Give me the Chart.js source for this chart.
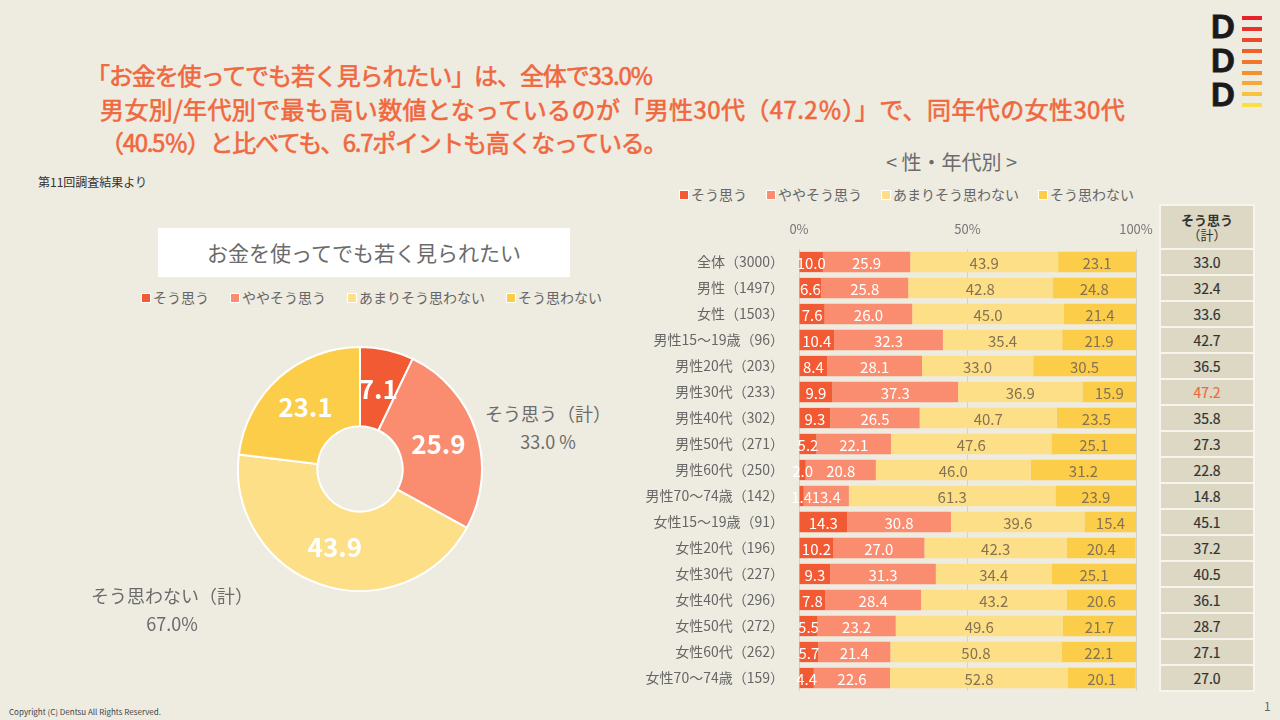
<!DOCTYPE html>
<html lang="ja">
<head>
<meta charset="utf-8">
<script src="https://cdn.jsdelivr.net/npm/chart.js@4.4.1/dist/chart.umd.min.js"></script>
<style>
  body { margin: 0; background: #eeebe1; font-family: "Noto Sans CJK JP", "Noto Sans", sans-serif; }
  #page { position: relative; width: 1280px; height: 720px; overflow: hidden; background: #eeebe1; }
  .abs { position: absolute; white-space: nowrap; }
  .headline { color: #f0683e; font-size: 24px; line-height: 34px; font-weight: 400; -webkit-text-stroke: 0.6px #f0683e; }
  .legend { font-size: 14px; color: #666; line-height: 18px; }
  .legend span.sq { display: inline-block; width: 8px; height: 8px; margin-right: 3px; vertical-align: 1px; }
  .note { font-size: 18px; color: #6b6b6b; text-align: center; line-height: 28px; }
  #table { position: absolute; left: 1159px; top: 204px; width: 96px; border-collapse: collapse; }
  #table td { background: #dcd8c4; border: 2px solid #f6f4ec; text-align: center; color: #333; font-size: 14px; height: 24px; padding: 0; -webkit-text-stroke: 0.2px #333; }
  #table td.head { height: 42px; font-size: 13px; font-weight: bold; line-height: 15px; -webkit-text-stroke: 0; }
  .stripe { position: absolute; left: 1242px; width: 20px; height: 4px; }
  .dd { position: absolute; left: 1211px; font: bold 33px "Liberation Sans", sans-serif; color: #1a1a1a; line-height: 33px; -webkit-text-stroke: 0.8px #1a1a1a; }
</style>
</head>
<body>
<div id="page">
  <div class="abs headline" style="left:86px; top:58px; letter-spacing:-1.1px;">「お金を使ってでも若く見られたい」は、全体で33.0%</div>
  <div class="abs headline" style="left:100px; top:92px; letter-spacing:0.4px;">男女別/年代別で最も高い数値となっているのが「男性30代（47.2％）」で、同年代の女性30代</div>
  <div class="abs headline" style="left:100px; top:125px; letter-spacing:-1.3px;">（40.5％）と比べても、6.7ポイントも高くなっている。</div>
  <div class="abs" style="left:38px; top:173px; font-size:12px; color:#333;">第11回調査結果より</div>

  <div class="abs" style="left:158px; top:228px; width:412px; height:49px; background:#fff; color:#6b6b6b; font-size:21px; line-height:49px; text-align:center;">お金を使ってでも若く見られたい</div>
  <div id="pieLegend" class="abs legend" style="left:142px; top:288px;"></div>

  <div class="abs" style="left:236px; top:345px; width:248px; height:248px;"><canvas id="pie"></canvas></div>
  <div class="abs note" style="left:485px; top:399px; width:126px;">そう思う（計）<br>33.0 %</div>
  <div class="abs note" style="left:88px; top:581px; width:168px;">そう思わない（計）<br>67.0%</div>

  <div class="abs" style="left:886px; top:147px; font-size:20px; color:#6b6b6b;">&lt; 性・年代別 &gt;</div>
  <div id="barLegend" class="abs legend" style="left:680px; top:185px;"></div>

  <div class="abs" style="left:630px; top:200px; width:530px; height:500px;"><canvas id="bars"></canvas></div>
  <table id="table"><tbody id="tbody"></tbody></table>

  <div class="abs" style="left:9px; top:706px; font-size:8px; color:#444;">Copyright (C) Dentsu All Rights Reserved.</div>
  <div class="abs" style="left:1264px; top:697px; font-size:12px; color:#666;">1</div>

  <div class="dd" style="top:10px;">D</div>
  <div class="dd" style="top:44px;">D</div>
  <div class="dd" style="top:78px;">D</div>
  <div id="logo"></div>
</div>

<script>
const answers = ["そう思う", "ややそう思う", "あまりそう思わない", "そう思わない"];
const colors = ["#f25a33", "#fa8d70", "#fddf88", "#fccd48"];

// overall doughnut
const pieValues = [7.1, 25.9, 43.9, 23.1];

// by gender / age
const groups = [
  "全体（3000）", "男性（1497）", "女性（1503）",
  "男性15～19歳（96）", "男性20代（203）", "男性30代（233）", "男性40代（302）",
  "男性50代（271）", "男性60代（250）", "男性70～74歳（142）",
  "女性15～19歳（91）", "女性20代（196）", "女性30代（227）", "女性40代（296）",
  "女性50代（272）", "女性60代（262）", "女性70～74歳（159）"
];
const agree    = [7.1, 6.6, 7.6, 10.4, 8.4, 9.9, 9.3, 5.2, 2.0, 1.4, 14.3, 10.2, 9.3, 7.8, 5.5, 5.7, 4.4];
const somewhat = [25.9, 25.8, 26.0, 32.3, 28.1, 37.3, 26.5, 22.1, 20.8, 13.4, 30.8, 27.0, 31.3, 28.4, 23.2, 21.4, 22.6];
const notMuch  = [43.9, 42.8, 45.0, 35.4, 33.0, 36.9, 40.7, 47.6, 46.0, 61.3, 39.6, 42.3, 34.4, 43.2, 49.6, 50.8, 52.8];
const disagree = [23.1, 24.8, 21.4, 21.9, 30.5, 15.9, 23.5, 25.1, 31.2, 23.9, 15.4, 20.4, 25.1, 20.6, 21.7, 22.1, 20.1];
const agreeTotal = [33.0, 32.4, 33.6, 42.7, 36.5, 47.2, 35.8, 27.3, 22.8, 14.8, 45.1, 37.2, 40.5, 36.1, 28.7, 27.1, 27.0];
const highlightRow = 5;
const xTicks = [0, 50, 100];

// the slide prints 10.0 on the 全体 bar, its length is 7.1 (7.1 + 25.9 = 33.0)
const agreeText = agree.map(v => v.toFixed(1));
agreeText[0] = "10.0";

Chart.defaults.font.family = '"Noto Sans CJK JP", "Noto Sans", sans-serif';
Chart.defaults.animation = false;

// legends
function legendHtml(gap) {
  return answers.map((a, i) =>
    '<span style="margin-right:' + gap + 'px"><span class="sq" style="background:' + colors[i] +
    ';outline:1px solid #fff"></span>' + a + '</span>').join("");
}
document.getElementById("pieLegend").innerHTML = legendHtml(22);
document.getElementById("barLegend").innerHTML = legendHtml(20);

// logo stripes
const stripeColors = ["#e62129", "#e8332a", "#ea4a2b", "#ed612c", "#f0782e", "#f39131", "#f6a936", "#f9c33d", "#fbde42"];
document.getElementById("logo").innerHTML = stripeColors.map((c, i) =>
  '<div class="stripe" style="top:' + (16 + i * 10.9) + 'px;background:' + c + '"></div>').join("");

// table on the right
const tbody = document.getElementById("tbody");
let rows = '<tr><td class="head">そう思う<br><span style="font-weight:normal">（計）</span></td></tr>';
agreeTotal.forEach((v, i) => {
  rows += '<tr><td style="' + (i === highlightRow ? 'color:#ef6a3f;-webkit-text-stroke-color:#ef6a3f' : '') + '">' + v.toFixed(1) + '</td></tr>';
});
tbody.innerHTML = rows;

// value labels
const pieLabels = {
  id: "pieLabels",
  afterDatasetsDraw(chart) {
    const ctx = chart.ctx;
    ctx.save();
    ctx.fillStyle = "#fff";
    ctx.font = '600 26px "Noto Sans CJK JP", sans-serif';
    ctx.textAlign = "center";
    ctx.textBaseline = "middle";
    chart.getDatasetMeta(0).data.forEach((arc, i) => {
      const p = arc.tooltipPosition();
      ctx.fillText(pieValues[i].toFixed(1), p.x, p.y);
    });
    ctx.restore();
  }
};

const barLabels = {
  id: "barLabels",
  afterDatasetsDraw(chart) {
    const ctx = chart.ctx;
    ctx.save();
    ctx.font = '15px "Noto Sans CJK JP", sans-serif';
    ctx.textAlign = "center";
    ctx.textBaseline = "middle";
    chart.data.datasets.forEach((ds, d) => {
      ctx.fillStyle = d < 2 ? "#fff" : "#857353";
      chart.getDatasetMeta(d).data.forEach((bar, i) => {
        const txt = d === 0 ? agreeText[i] : ds.data[i].toFixed(1);
        ctx.fillText(txt, (bar.x + bar.base) / 2, bar.y + 1);
      });
    });
    ctx.restore();
  }
};

new Chart(document.getElementById("pie"), {
  type: "doughnut",
  data: {
    labels: answers,
    datasets: [{ data: pieValues, backgroundColor: colors, borderColor: "#fff", borderWidth: 2 }]
  },
  options: {
    responsive: true,
    maintainAspectRatio: false,
    radius: 122,
    cutout: 43,
    plugins: { legend: { display: false }, tooltip: { enabled: false } }
  },
  plugins: [pieLabels]
});

const seriesData = [agree, somewhat, notMuch, disagree];
new Chart(document.getElementById("bars"), {
  type: "bar",
  data: {
    labels: groups,
    datasets: answers.map((a, i) => ({
      label: a,
      data: seriesData[i],
      backgroundColor: colors[i],
      barPercentage: 0.78,
      categoryPercentage: 1
    }))
  },
  options: {
    indexAxis: "y",
    responsive: true,
    maintainAspectRatio: false,
    layout: { padding: { top: 0, right: 24, bottom: 9, left: 0 } },
    scales: {
      x: {
        position: "top",
        stacked: true,
        min: 0,
        max: 100,
        afterBuildTicks: scale => { scale.ticks = xTicks.map(v => ({ value: v })); },
        afterFit: scale => { scale.height = 49; scale.paddingLeft = 0; scale.paddingRight = 0; },
        ticks: { callback: v => v + "%", color: "#777", font: { size: 13 }, padding: 12 },
        grid: { color: "#d6d2c7", drawTicks: false },
        border: { display: false }
      },
      y: {
        stacked: true,
        afterFit: scale => { scale.width = 169; scale.paddingTop = 0; scale.paddingBottom = 0; },
        ticks: { color: "#666", font: { size: 14 }, padding: 15, autoSkip: false },
        grid: { display: false, drawTicks: false },
        border: { display: false }
      }
    },
    plugins: { legend: { display: false }, tooltip: { enabled: false } }
  },
  plugins: [barLabels]
});
</script>
</body>
</html>
